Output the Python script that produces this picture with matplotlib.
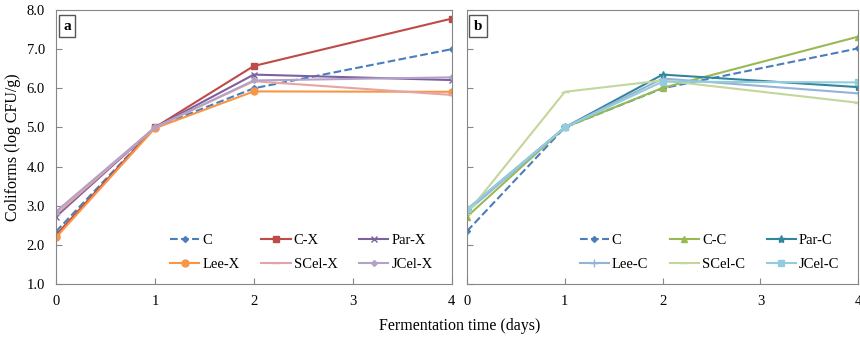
import matplotlib.pyplot as plt

plt.rcParams['font.family'] = ['Liberation Serif', 'DejaVu Serif']

days = [0, 1, 2, 4]

# panel a
c_a = [2.34, 5.0, 6.0, 7.0]
cx = [2.25, 5.0, 6.57, 7.78]
parx = [2.72, 5.0, 6.35, 6.21]
leex = [2.19, 4.98, 5.92, 5.91]
scelx = [2.78, 5.0, 6.18, 5.83]
jcelx = [2.85, 5.0, 6.2, 6.28]

# panel b
c_b = [2.35, 5.0, 6.0, 7.02]
cc = [2.72, 5.0, 6.01, 7.32]
parc = [2.9, 5.0, 6.35, 6.03]
leec = [2.85, 5.0, 6.25, 5.87]
scelc = [2.8, 5.91, 6.2, 5.63]
jcelc = [2.91, 5.0, 6.17, 6.15]

fig = plt.figure(figsize=(8.6, 3.38), dpi=100)
ax1 = fig.add_axes([0.0651, 0.1598, 0.4601, 0.8106])
ax2 = fig.add_axes([0.543, 0.1598, 0.455, 0.8106])

series_a = [
    ('C', c_a, '#4a7ebb', 'D', '--', 3),
    ('C-X', cx, '#be4b48', 's', '-', 5),
    ('Par-X', parx, '#7d60a0', 'x', '-', 5),
    ('Lee-X', leex, '#f79646', 'o', '-', 5),
    ('SCel-X', scelx, '#e6a5a4', '_', '-', 6),
    ('JCel-X', jcelx, '#b3a2c7', 'D', '-', 3),
]
series_b = [
    ('C', c_b, '#4a7ebb', 'D', '--', 3),
    ('C-C', cc, '#98b954', '^', '-', 5),
    ('Par-C', parc, '#31859c', '*', '-', 6),
    ('Lee-C', leec, '#95b3d7', '+', '-', 6),
    ('SCel-C', scelc, '#c3d69b', '_', '-', 6),
    ('JCel-C', jcelc, '#93cddd', 's', '-', 5),
]

for ax, series, tag in [(ax1, series_a, 'a'), (ax2, series_b, 'b')]:
    lines = []
    for name, vals, col, mk, ls, ms in series:
        ln, = ax.plot(days, vals, color=col, marker=mk, linestyle=ls, markersize=ms,
                      linewidth=1.5, label=name)
        lines.append(ln)
    ax.set_xlim(0, 4)
    ax.set_ylim(1.0, 8.0)
    ax.set_xticks([0, 1, 2, 3, 4])
    ax.set_yticks([1, 2, 3, 4, 5, 6, 7, 8])
    ax.tick_params(direction='in', length=4, color='#868686', labelsize=10.5, pad=8)
    for sp in ax.spines.values():
        sp.set_color('#868686')
    ax.text(0.018, 0.965, tag, transform=ax.transAxes, fontsize=11, fontweight='bold',
            va='top', ha='left',
            bbox=dict(boxstyle='square,pad=0.3', facecolor='white', edgecolor='#555555', linewidth=1))
    # row-major order for the 3-column legend
    order = [0, 3, 1, 4, 2, 5]
    ax.legend([lines[i] for i in order], [series[i][0] for i in order],
              loc='lower right', ncol=3, frameon=False, fontsize=10.5,
              bbox_to_anchor=(0.985, 0.0), handlelength=2.0, columnspacing=1.5,
              handletextpad=0.2, labelspacing=0.75)

ax1.yaxis.set_major_formatter(plt.FormatStrFormatter('%.1f'))
ax2.set_yticklabels([])
ax1.set_ylabel('Coliforms (log CFU/g)', fontsize=11.5)
fig.text(0.535, 0.025, 'Fermentation time (days)', ha='center', fontsize=11.5)

fig.savefig('out.png', dpi=100)
